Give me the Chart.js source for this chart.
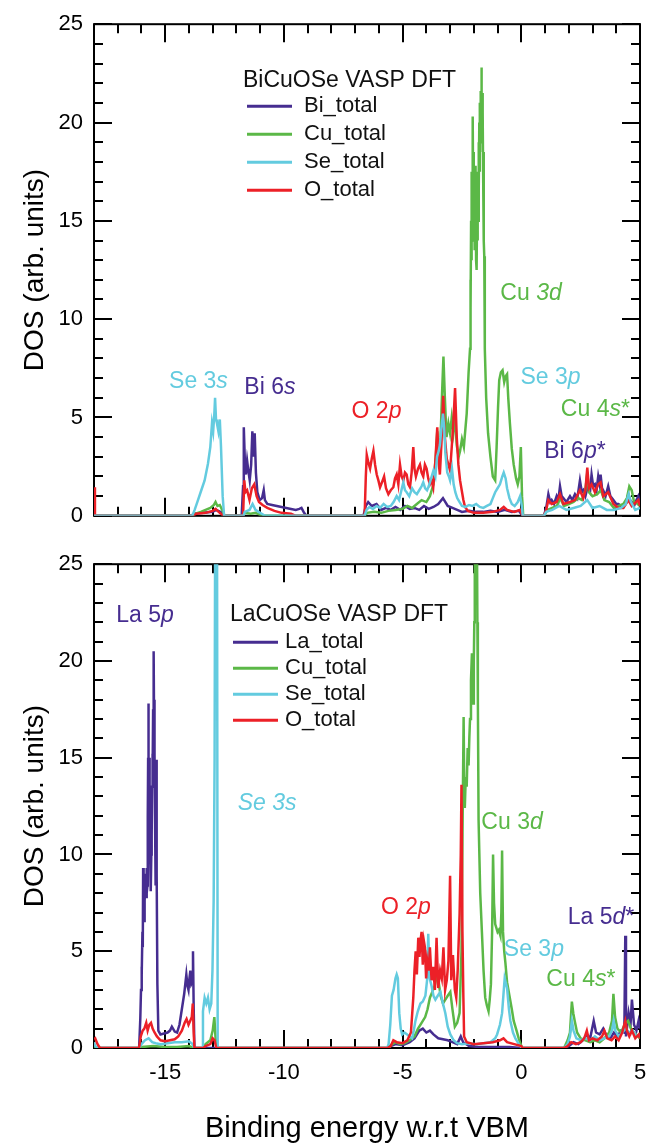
<!DOCTYPE html>
<html><head><meta charset="utf-8">
<script src="https://cdn.jsdelivr.net/npm/chart.js@4.4.0/dist/chart.umd.min.js"></script>
<style>
html,body{margin:0;padding:0;background:#fff;width:646px;height:1146px;overflow:hidden}
#c1{position:absolute;left:0;top:0}
#c2{position:absolute;left:0;top:540px}
</style></head>
<body>
<canvas id="c1" width="646" height="540"></canvas>
<canvas id="c2" width="646" height="606"></canvas>
<script>
// ---------- axis settings ----------
const xRange = [-18, 5];
const yRange = [0, 25];
const xTitle = 'Binding energy w.r.t VBM';
const yTitle = 'DOS (arb. units)';

// ---------- panel 1: BiCuOSe ----------
const bi_title = 'BiCuOSe VASP DFT';
const bi_names = ['Bi_total', 'Cu_total', 'Se_total', 'O_total'];

const bi_Bi = [[-18,0],[-13.9,0],[-13.8,0.1],[-13.4,0.15],[-13.0,0.2],[-12.85,0.3],[-12.6,0.15],[-12.5,0],
[-11.78,0],[-11.72,1.5],[-11.69,4.5],[-11.64,2.6],[-11.6,2.1],[-11.55,2.8],[-11.51,2.4],[-11.44,1.8],[-11.38,2.6],[-11.33,4.3],[-11.28,3.0],[-11.23,4.2],[-11.18,2.2],[-11.12,1.2],[-11.02,0.8],[-10.92,0.9],[-10.85,1.3],[-10.8,0.8],[-10.7,0.6],[-10.5,0.55],[-10.3,0.5],[-10.1,0.45],[-9.9,0.4],[-9.7,0.35],[-9.5,0.3],[-9.35,0.35],[-9.26,0.4],[-9.15,0.15],[-9.05,0],
[-6.65,0],[-6.55,0.5],[-6.45,0.7],[-6.3,0.5],[-6.1,0.6],[-5.9,0.3],[-5.7,0.4],[-5.5,0.3],[-5.3,0.45],[-5.1,0.3],[-4.9,0.5],[-4.7,0.35],[-4.5,0.4],[-4.3,0.3],[-4.1,0.5],[-3.9,0.35],[-3.7,0.45],[-3.5,0.6],[-3.3,0.9],[-3.1,0.5],[-2.9,0.4],[-2.7,0.3],[-2.5,0.2],[-2.2,0.25],[-1.9,0.2],[-1.6,0.2],[-1.3,0.25],[-1.0,0.2],[-0.7,0.3],[-0.4,0.2],[-0.1,0.25],[0.05,0],
[0.95,0],[1.05,0.4],[1.14,1.1],[1.22,0.7],[1.28,0.8],[1.38,0.6],[1.49,1.0],[1.56,0.8],[1.63,1.5],[1.7,1.0],[1.77,0.9],[1.9,0.7],[2.05,1.0],[2.15,0.8],[2.26,1.1],[2.36,0.9],[2.47,1.8],[2.55,1.2],[2.61,1.3],[2.7,1.0],[2.82,1.6],[2.9,1.3],[2.96,2.1],[3.03,1.5],[3.1,1.6],[3.17,1.3],[3.24,2.0],[3.3,1.6],[3.34,2.1],[3.4,1.4],[3.45,1.3],[3.55,1.0],[3.66,1.5],[3.75,1.0],[3.88,0.8],[4.0,0.6],[4.09,0.6],[4.2,0.5],[4.3,0.5],[4.4,0.6],[4.51,1.1],[4.58,0.8],[4.65,0.7],[4.75,0.5],[4.85,0.8],[4.93,1.0],[5,0.7]];

const bi_Cu = [[-18,0],[-13.85,0],[-13.75,0.1],[-13.5,0.2],[-13.3,0.3],[-13.1,0.4],[-12.95,0.55],[-12.88,0.7],[-12.8,0.5],[-12.7,0.55],[-12.6,0.3],[-12.5,0],
[-11.75,0],[-11.65,0.15],[-11.4,0.1],[-11.2,0.15],[-11.0,0.05],[-10.8,0],
[-6.6,0],[-6.5,0.15],[-6.2,0.2],[-5.9,0.15],[-5.6,0.25],[-5.3,0.3],[-5.0,0.35],[-4.8,0.5],[-4.6,0.4],[-4.4,0.6],[-4.2,0.8],[-4.0,0.7],[-3.85,1.0],[-3.7,1.6],[-3.6,3.0],[-3.54,4.3],[-3.47,2.8],[-3.4,4.0],[-3.33,6.5],[-3.28,8.1],[-3.22,6.0],[-3.15,4.0],[-3.07,4.7],[-3.0,4.2],[-2.93,5.0],[-2.86,4.3],[-2.8,5.2],[-2.72,3.6],[-2.64,3.0],[-2.58,3.3],[-2.5,3.9],[-2.42,3.5],[-2.3,5.2],[-2.22,7.3],
[-2.16,8.5],[-2.145,12.0],[-2.13,10.5],[-2.115,15.0],[-2.1,13.0],[-2.085,17.5],[-2.07,14.0],[-2.055,19.0],[-2.04,20.3],[-2.025,16.0],[-2.01,18.5],[-1.995,14.5],[-1.98,16.5],[-1.965,13.5],[-1.95,17.0],[-1.935,15.0],[-1.92,17.8],[-1.905,13.0],[-1.89,15.5],[-1.875,12.5],[-1.86,16.0],[-1.845,14.0],[-1.83,17.5],[-1.815,15.0],[-1.8,19.0],[-1.785,16.5],[-1.77,20.0],[-1.755,17.5],[-1.74,21.0],[-1.725,19.0],[-1.71,21.6],[-1.695,20.0],[-1.68,22.8],[-1.665,19.5],[-1.65,21.5],[-1.635,18.5],[-1.62,20.5],[-1.605,17.0],[-1.59,18.5],[-1.575,14.0],[-1.56,13.2],[-1.545,10.0],[-1.53,8.5],
[-1.48,6.0],[-1.4,4.2],[-1.3,3.0],[-1.2,2.0],[-1.1,1.8],[-1.04,3.5],[-0.98,5.5],[-0.93,6.9],[-0.86,7.3],[-0.79,7.4],[-0.72,6.8],[-0.66,7.1],[-0.6,7.2],[-0.55,6.0],[-0.48,4.7],[-0.4,3.4],[-0.32,2.6],[-0.22,1.9],[-0.15,1.6],[-0.08,2.0],[-0.02,3.5],[0.03,1.0],[0.08,0],
[0.95,0],[1.1,0.3],[1.3,0.4],[1.5,0.5],[1.63,0.9],[1.8,0.5],[2.0,0.6],[2.2,0.7],[2.4,0.9],[2.55,0.8],[2.7,1.3],[2.78,2.2],[2.85,1.2],[3.0,1.0],[3.2,1.1],[3.35,1.3],[3.5,0.8],[3.7,0.7],[3.9,0.4],[4.1,0.5],[4.3,0.6],[4.45,0.9],[4.55,1.5],[4.65,1.3],[4.75,0.7],[4.9,0.6],[5,0.5]];

const bi_Se = [[-18,0],[-13.86,0],[-13.76,0.3],[-13.62,0.8],[-13.48,1.3],[-13.34,1.8],[-13.2,2.65],[-13.1,3.5],[-13.03,4.7],[-12.98,4.3],[-12.93,5.2],[-12.9,6.0],[-12.86,4.9],[-12.82,4.7],[-12.76,4.3],[-12.7,4.9],[-12.65,3.5],[-12.58,1.0],[-12.52,0],
[-11.7,0],[-11.65,0.2],[-11.45,0.3],[-11.32,0.6],[-11.2,0.3],[-11.0,0.15],[-10.8,0],
[-6.6,0],[-6.52,0.3],[-6.4,0.45],[-6.25,0.35],[-6.1,0.5],[-5.95,0.4],[-5.8,0.6],[-5.65,0.45],[-5.5,0.5],[-5.38,0.7],[-5.25,1.0],[-5.15,0.8],[-5.05,1.3],[-4.97,1.7],[-4.9,1.3],[-4.83,1.2],[-4.72,1.0],[-4.6,1.4],[-4.5,1.2],[-4.4,1.1],[-4.3,1.3],[-4.2,1.5],[-4.13,1.7],[-4.05,1.4],[-3.97,1.3],[-3.9,1.5],[-3.8,1.9],[-3.7,2.3],[-3.62,2.0],[-3.55,3.0],[-3.48,3.3],[-3.43,3.6],[-3.37,4.4],[-3.3,5.2],[-3.25,4.5],[-3.2,3.2],[-3.12,2.2],[-3.05,2.0],[-3.0,1.8],[-2.92,2.4],[-2.85,1.6],[-2.78,1.2],[-2.7,0.9],[-2.6,0.7],[-2.5,0.5],[-2.35,0.45],[-2.2,0.55],[-2.05,0.5],[-1.9,0.6],[-1.75,0.45],[-1.6,0.4],[-1.45,0.5],[-1.3,0.6],[-1.2,0.9],[-1.1,1.2],[-1.0,1.4],[-0.9,1.6],[-0.8,2.0],[-0.74,2.2],[-0.66,1.9],[-0.6,1.4],[-0.5,0.9],[-0.4,0.6],[-0.28,0.5],[-0.15,0.7],[-0.05,1.0],[0.02,0.5],[0.06,0],
[0.95,0],[1.05,0.2],[1.3,0.3],[1.6,0.5],[1.9,0.3],[2.2,0.4],[2.5,0.5],[2.78,0.8],[3.0,0.4],[3.3,0.5],[3.6,0.3],[3.9,0.3],[4.2,0.4],[4.4,0.6],[4.52,1.1],[4.62,0.7],[4.8,0.3],[5,0.4]];

const bi_O = [[-18,1.45],[-17.96,0],[-13.86,0],[-13.7,0.1],[-13.3,0.15],[-13.0,0.25],[-12.88,0.35],[-12.75,0.2],[-12.55,0],
[-11.72,0],[-11.67,1.8],[-11.62,1.2],[-11.55,1.3],[-11.45,0.8],[-11.35,1.4],[-11.25,1.6],[-11.15,1.0],[-11.05,0.7],[-10.9,0.55],[-10.7,0.4],[-10.4,0.25],[-10.1,0.15],[-9.7,0.1],[-9.5,0],
[-6.6,0],[-6.55,2.0],[-6.51,3.1],[-6.44,2.7],[-6.37,2.4],[-6.3,2.9],[-6.23,3.3],[-6.16,2.6],[-6.09,2.1],[-6.02,1.8],[-5.95,1.45],[-5.87,1.7],[-5.78,2.0],[-5.7,1.4],[-5.6,1.1],[-5.5,1.3],[-5.39,1.45],[-5.32,1.9],[-5.25,2.1],[-5.18,1.6],[-5.11,2.6],[-5.04,2.0],[-4.97,1.8],[-4.9,2.2],[-4.83,2.1],[-4.76,1.6],[-4.69,1.45],[-4.62,2.2],[-4.55,3.5],[-4.5,2.4],[-4.44,2.0],[-4.35,2.4],[-4.27,2.6],[-4.2,2.2],[-4.13,2.0],[-4.06,2.6],[-3.99,2.4],[-3.92,1.9],[-3.85,1.6],[-3.78,1.8],[-3.71,1.45],[-3.62,2.8],[-3.54,4.5],[-3.48,2.7],[-3.43,2.1],[-3.36,3.8],[-3.29,6.1],[-3.22,4.0],[-3.14,2.9],[-3.07,2.6],[-3.0,2.3],[-2.93,3.5],[-2.86,4.8],[-2.79,6.5],[-2.72,4.0],[-2.65,2.6],[-2.58,1.8],[-2.51,1.3],[-2.44,0.8],[-2.37,0.45],[-2.25,0.25],[-2.0,0.15],[-1.6,0.15],[-1.2,0.2],[-0.9,0.3],[-0.74,0.45],[-0.6,0.3],[-0.3,0.2],[-0.05,0.3],[0.05,0],
[0.95,0],[1.05,0.3],[1.14,0.8],[1.28,0.6],[1.49,0.7],[1.63,1.1],[1.77,0.6],[2.05,0.7],[2.26,0.8],[2.47,1.3],[2.61,0.9],[2.7,1.3],[2.78,2.45],[2.85,1.4],[2.96,1.6],[3.1,1.2],[3.24,1.6],[3.34,1.7],[3.45,1.0],[3.66,1.2],[3.88,0.6],[4.09,0.4],[4.3,0.4],[4.51,0.8],[4.65,0.5],[4.93,0.8],[5,0.5]];

// ---------- panel 2: LaCuOSe ----------
const la_title = 'LaCuOSe VASP DFT';
const la_names = ['La_total', 'Cu_total', 'Se_total', 'O_total'];

const la_La = [[-18,0],[-16.1,0],[-16.05,1.5],[-16.02,3.0],[-16.0,4.2],[-15.98,3.8],[-15.96,6.0],[-15.945,5.2],[-15.93,9.3],[-15.91,7.0],[-15.89,8.0],[-15.875,6.5],[-15.86,7.6],[-15.84,8.5],[-15.82,9.0],[-15.805,7.8],[-15.79,9.3],[-15.77,8.0],[-15.75,8.4],[-15.74,10.5],[-15.73,12.0],[-15.72,15.0],[-15.71,17.8],[-15.695,14.0],[-15.68,15.0],[-15.665,11.5],[-15.65,13.5],[-15.635,10.0],[-15.62,9.5],[-15.61,8.5],[-15.6,8.1],[-15.585,10.0],[-15.57,11.0],[-15.555,13.5],[-15.54,15.2],[-15.525,14.0],[-15.51,17.5],[-15.495,16.0],[-15.48,20.5],[-15.47,17.0],[-15.46,18.0],[-15.45,14.0],[-15.44,15.2],[-15.43,12.0],[-15.42,11.0],[-15.41,9.0],[-15.4,8.4],[-15.39,10.5],[-15.38,12.0],[-15.37,14.9],[-15.36,11.0],[-15.35,9.0],[-15.33,3.3],[-15.29,0.9],[-15.2,0.7],[-15.05,0.75],[-14.9,0.8],[-14.8,0.9],[-14.72,1.1],[-14.6,0.85],[-14.5,0.8],[-14.4,1.2],[-14.3,2.0],[-14.2,2.8],[-14.11,3.8],[-14.06,3.2],[-14.02,3.0],[-13.98,3.6],[-13.94,4.0],[-13.9,3.3],[-13.86,3.4],[-13.83,5.0],[-13.8,2.0],[-13.77,0],
[-5.6,0],[-5.5,0.1],[-5.3,0.2],[-5.0,0.15],[-4.7,0.3],[-4.5,0.5],[-4.3,0.9],[-4.15,1.0],[-4.0,0.8],[-3.85,0.9],[-3.7,0.7],[-3.5,0.5],[-3.3,0.45],[-3.1,0.4],[-2.9,0.3],[-2.7,0.2],[-2.55,0.6],[-2.45,0.3],[-2.2,0.1],[-1.8,0.05],[-1.0,0.05],[-0.5,0.05],[0,0],
[1.8,0],[2.0,0.1],[2.2,0.3],[2.4,0.2],[2.6,0.4],[2.76,0.7],[2.9,0.5],[3.05,1.4],[3.15,0.8],[3.3,0.7],[3.45,1.0],[3.6,0.6],[3.75,0.5],[3.9,0.8],[4.05,0.6],[4.2,0.9],[4.34,0.8],[4.38,5.8],[4.41,0.6],[4.52,1.8],[4.6,1.2],[4.66,2.5],[4.75,1.2],[4.85,0.9],[4.94,1.4],[5,1.0]];

const la_Cu = [[-18,0],[-16.1,0],[-16.0,0.05],[-15.5,0.1],[-15.0,0.05],[-14.5,0.05],[-14.0,0.1],[-13.8,0],[-13.4,0],[-13.3,0.2],[-13.1,0.4],[-13.0,0.9],[-12.93,1.6],[-12.88,0.5],[-12.8,0],
[-5.6,0],[-5.5,0.15],[-5.3,0.3],[-5.1,0.2],[-4.9,0.25],[-4.7,0.4],[-4.5,0.6],[-4.35,1.0],[-4.2,1.3],[-4.05,1.6],[-3.95,2.0],[-3.85,2.6],[-3.75,2.9],[-3.65,3.2],[-3.55,3.8],[-3.48,3.4],[-3.4,2.7],[-3.3,2.3],[-3.2,2.5],[-3.1,2.7],[-2.99,2.9],[-2.9,2.0],[-2.8,1.1],[-2.7,1.3],[-2.6,1.8],[-2.52,5.0],[-2.47,12.0],[-2.43,17.1],[-2.4,13.0],[-2.38,12.4],[-2.34,14.0],[-2.3,13.5],[-2.26,15.5],[-2.22,14.6],[-2.19,16.0],[-2.16,17.0],[-2.12,19.0],[-2.08,20.4],[-2.05,18.5],[-2.03,17.8],[-2.0,20.0],[-1.98,22.0],[-1.96,24.5],[-1.94,27],[-1.87,27],[-1.85,22.0],[-1.83,18.0],[-1.8,11.8],[-1.73,8.0],[-1.66,6.0],[-1.59,4.0],[-1.52,2.6],[-1.45,2.2],[-1.38,1.9],[-1.33,2.5],[-1.28,3.3],[-1.23,6.0],[-1.19,10.0],[-1.15,7.5],[-1.1,6.4],[-1.0,6.0],[-0.95,6.1],[-0.88,5.8],[-0.84,7.0],[-0.81,10.2],[-0.77,6.0],[-0.72,5.0],[-0.67,4.4],[-0.6,3.4],[-0.5,2.7],[-0.4,2.0],[-0.32,1.4],[-0.2,0.9],[-0.11,0.5],[0.03,0],
[1.8,0],[1.95,0.4],[2.05,0.8],[2.13,2.4],[2.19,1.8],[2.25,1.4],[2.35,0.8],[2.5,0.5],[2.7,0.4],[2.9,0.3],[3.1,0.4],[3.3,0.3],[3.5,0.5],[3.7,0.8],[3.82,1.4],[3.88,2.8],[3.95,1.6],[4.05,1.0],[4.2,0.8],[4.35,1.2],[4.5,1.4],[4.62,1.0],[4.75,0.8],[4.9,0.6],[5,0.5]];

const la_Se = [[-18,0.3],[-17.95,0.1],[-17.85,0],[-16.1,0],[-16.0,0.2],[-15.85,0.4],[-15.7,0.5],[-15.55,0.3],[-15.4,0.25],[-15.2,0.2],[-14.9,0.25],[-14.6,0.3],[-14.3,0.3],[-14.0,0.35],[-13.85,0.2],[-13.78,0],
[-13.45,0],[-13.41,1.9],[-13.34,2.6],[-13.27,2.3],[-13.2,2.6],[-13.13,2.0],[-13.06,2.3],[-13.01,4.0],[-12.96,7.6],[-12.92,15],[-12.89,30],[-12.82,30],[-12.79,0],
[-5.65,0],[-5.59,0.2],[-5.52,1.2],[-5.45,2.7],[-5.38,3.0],[-5.3,3.6],[-5.25,3.8],[-5.2,3.6],[-5.14,1.8],[-5.08,1.0],[-5.02,0.7],[-4.92,0.8],[-4.81,0.7],[-4.7,0.6],[-4.6,0.5],[-4.53,0.9],[-4.46,1.4],[-4.36,1.9],[-4.25,2.3],[-4.15,2.4],[-4.04,2.7],[-3.97,3.5],[-3.92,5.9],[-3.86,3.6],[-3.78,3.2],[-3.7,2.7],[-3.62,2.5],[-3.52,2.7],[-3.41,2.9],[-3.3,2.3],[-3.2,1.8],[-3.1,1.1],[-2.99,0.7],[-2.85,0.4],[-2.71,0.25],[-2.5,0.2],[-2.2,0.25],[-1.9,0.2],[-1.6,0.25],[-1.3,0.3],[-1.1,0.5],[-1.02,0.7],[-0.9,1.2],[-0.81,1.8],[-0.75,2.8],[-0.7,3.6],[-0.6,3.1],[-0.52,2.0],[-0.46,1.4],[-0.35,0.8],[-0.25,0.5],[-0.1,0.2],[0.02,0],
[1.8,0],[1.95,0.2],[2.05,0.6],[2.13,1.4],[2.2,0.9],[2.32,0.5],[2.5,0.4],[2.7,0.5],[2.9,0.4],[3.1,0.6],[3.3,0.4],[3.5,0.5],[3.7,0.6],[3.82,0.9],[3.89,1.4],[3.96,0.9],[4.1,0.6],[4.25,0.8],[4.4,1.0],[4.55,0.8],[4.7,0.9],[4.85,0.6],[5,0.7]];

const la_O = [[-18,0.45],[-17.95,0.5],[-17.85,0.2],[-17.75,0],[-16.1,0],[-16.03,0.6],[-15.95,0.9],[-15.88,1.0],[-15.8,1.3],[-15.74,0.9],[-15.67,1.2],[-15.6,1.3],[-15.53,1.0],[-15.45,0.8],[-15.35,0.6],[-15.2,0.4],[-15.0,0.35],[-14.8,0.4],[-14.6,0.45],[-14.45,0.6],[-14.3,0.9],[-14.18,1.3],[-14.1,1.5],[-14.02,1.2],[-13.95,1.4],[-13.88,1.6],[-13.84,2.3],[-13.8,0.8],[-13.77,0],
[-13.4,0],[-13.3,0.1],[-13.1,0.2],[-13.0,0.5],[-12.92,0.4],[-12.85,0],
[-5.65,0],[-5.5,0.1],[-5.39,0.4],[-5.25,0.3],[-5.0,0.25],[-4.8,0.4],[-4.65,0.8],[-4.55,2.6],[-4.5,4.0],[-4.45,5.0],[-4.4,3.8],[-4.34,5.7],[-4.29,4.7],[-4.25,5.5],[-4.2,6.0],[-4.15,4.3],[-4.1,5.5],[-4.06,5.2],[-4.01,3.6],[-3.96,4.5],[-3.9,4.0],[-3.85,5.2],[-3.78,3.5],[-3.71,4.2],[-3.64,3.0],[-3.57,5.7],[-3.5,3.1],[-3.42,4.0],[-3.35,3.6],[-3.28,5.2],[-3.21,3.0],[-3.14,3.5],[-3.07,4.5],[-3.0,8.9],[-2.95,3.5],[-2.88,4.8],[-2.8,3.0],[-2.74,2.6],[-2.68,4.0],[-2.6,6.9],[-2.55,10.0],[-2.52,13.6],[-2.48,6.0],[-2.44,2.6],[-2.41,0.6],[-2.3,0.3],[-2.0,0.2],[-1.6,0.25],[-1.2,0.3],[-0.9,0.4],[-0.75,0.5],[-0.6,0.3],[-0.3,0.2],[0.0,0.1],[0.05,0],
[1.8,0],[1.95,0.1],[2.1,0.3],[2.3,0.2],[2.5,0.3],[2.65,0.5],[2.76,0.9],[2.85,0.4],[3.0,0.5],[3.2,0.4],[3.4,0.6],[3.5,0.9],[3.62,0.5],[3.8,0.4],[3.95,0.6],[4.1,0.4],[4.25,0.8],[4.38,1.4],[4.45,0.9],[4.55,0.6],[4.66,0.9],[4.8,0.5],[4.95,0.7],[5,0.5]];

// ---------- annotation texts (data coordinates; [text, italic]) ----------
const bi_notes = [
  {x:-13.6, y:6.8,  c:2, parts:[['Se 3',0],['s',1]]},
  {x:-10.59,y:6.54, c:0, parts:[['Bi 6',0],['s',1]]},
  {x:-6.1,  y:5.28, c:3, parts:[['O 2',0],['p',1]]},
  {x:0.41,  y:11.32,c:1, parts:[['Cu ',0],['3d',1]]},
  {x:1.23,  y:7.04, c:2, parts:[['Se 3',0],['p',1]]},
  {x:3.12,  y:5.38, c:1, parts:[['Cu 4',0],['s',1],['*',0]]},
  {x:2.26,  y:3.27, c:0, parts:[['Bi 6',0],['p',1],['*',0]]}
];
const la_notes = [
  {x:-15.85,y:22.35,c:0, parts:[['La 5',0],['p',1]]},
  {x:-10.71,y:12.65,c:2, parts:[['Se 3s',1]]},
  {x:-0.39, y:11.63,c:1, parts:[['Cu 3',0],['d',1]]},
  {x:-4.86, y:7.26, c:3, parts:[['O 2',0],['p',1]]},
  {x:0.53,  y:5.07, c:2, parts:[['Se 3',0],['p',1]]},
  {x:2.51,  y:3.52, c:1, parts:[['Cu 4',0],['s',1],['*',0]]},
  {x:3.36,  y:6.72, c:0, parts:[['La 5',0],['d',1],['*',0]]}
];

// ---------- styling ----------
const COLORS = ['#462d90', '#5bb847', '#63cbdf', '#ec2027'];
const FAM = '"Liberation Sans", Arial, Helvetica, sans-serif';

const toXY = a => a.map(([x, y]) => ({x, y}));

const decor = {
  id: 'decor',
  beforeDatasetsDraw(chart, args, o) {
    const {ctx, chartArea: a, scales: {x, y}} = chart;
    ctx.save();
    ctx.strokeStyle = '#000';
    ctx.lineWidth = 2;
    ctx.strokeRect(a.left, a.top, a.right - a.left, a.bottom - a.top);
    ctx.beginPath();
    x.ticks.forEach(t => {
      const p = Math.round(x.getPixelForValue(t.value));
      const L = (Math.abs(t.value) % 5 === 0) ? 18 : 9;
      ctx.moveTo(p, a.bottom); ctx.lineTo(p, a.bottom - L);
      ctx.moveTo(p, a.top); ctx.lineTo(p, a.top + L);
    });
    y.ticks.forEach(t => {
      const p = Math.round(y.getPixelForValue(t.value));
      const L = (t.value % 5 === 0) ? 18 : 9;
      ctx.moveTo(a.left, p); ctx.lineTo(a.left + L, p);
      ctx.moveTo(a.right, p); ctx.lineTo(a.right - L, p);
    });
    ctx.stroke();
    ctx.restore();
  },
  afterDatasetsDraw(chart, args, o) {
    const {ctx, chartArea: a, scales: {x, y}} = chart;
    ctx.save();
    ctx.textBaseline = 'middle';
    ctx.textAlign = 'left';
    // legend
    const L = o.legend;
    ctx.fillStyle = '#111';
    ctx.font = '23px ' + FAM;
    ctx.fillText(o.title, a.left + L.titleX, a.top + L.titleY);
    o.names.forEach((n, i) => {
      const ry = a.top + L.rowY + i * L.rowGap;
      ctx.strokeStyle = COLORS[i];
      ctx.lineWidth = 3;
      ctx.beginPath();
      ctx.moveTo(a.left + L.lineX1, ry);
      ctx.lineTo(a.left + L.lineX2, ry);
      ctx.stroke();
      ctx.fillStyle = '#111';
      ctx.font = '22px ' + FAM;
      ctx.fillText(n, a.left + L.textX, ry);
    });
    // annotations
    o.notes.forEach(n => {
      const px = x.getPixelForValue(n.x), py = y.getPixelForValue(n.y);
      const w = n.parts.map(([t, it]) => { ctx.font = (it ? 'italic ' : '') + '23px ' + FAM; return ctx.measureText(t).width; });
      let cx = px - w.reduce((s, v) => s + v, 0) / 2;
      ctx.fillStyle = COLORS[n.c];
      n.parts.forEach(([t, it], i) => {
        ctx.font = (it ? 'italic ' : '') + '23px ' + FAM;
        ctx.fillText(t, cx, py);
        cx += w[i];
      });
    });
    ctx.restore();
  }
};

function makePanel(canvasId, series, names, title, notes, opts) {
  const order = opts.order;
  const datasets = series.map((s, i) => ({
    label: names[i],
    data: toXY(s),
    showLine: true,
    borderColor: COLORS[i],
    backgroundColor: COLORS[i],
    borderWidth: 2.5,
    pointRadius: 0,
    tension: 0,
    order: order[i]
  }));
  return new Chart(document.getElementById(canvasId), {
    type: 'scatter',
    data: {datasets},
    plugins: [decor],
    options: {
      responsive: false,
      animation: false,
      devicePixelRatio: 1,
      layout: {padding: {top: opts.padTop, right: 6, left: 0, bottom: 0}},
      plugins: {
        legend: {display: false},
        tooltip: {enabled: false},
        decor: {title, names, notes, legend: opts.legend}
      },
      scales: {
        x: {
          type: 'linear', min: xRange[0], max: xRange[1],
          grid: {display: false, drawTicks: false},
          border: {display: false},
          ticks: {
            display: opts.showX, stepSize: 1, autoSkip: false, maxRotation: 0, minRotation: 0,
            padding: 12, color: '#000', font: {size: 22, family: FAM},
            callback: v => (Math.abs(v) % 5 === 0 ? String(v) : '')
          },
          title: {display: opts.showX, text: xTitle, color: '#000',
                  font: {size: 29, family: FAM, lineHeight: 1.0}, padding: {top: 0, bottom: 3}},
          afterFit(s) { s.height = opts.xHeight; s.paddingLeft = 0; s.paddingRight = 0; }
        },
        y: {
          type: 'linear', min: yRange[0], max: yRange[1],
          grid: {display: false, drawTicks: false},
          border: {display: false},
          ticks: {
            stepSize: 1, autoSkip: false, padding: 11, color: '#000',
            font: {size: 22, family: FAM},
            callback: v => (v % 5 === 0 ? String(v) : '')
          },
          title: {display: true, text: yTitle, color: '#000',
                  font: {size: 28, family: FAM, lineHeight: 1.2}, padding: {top: 18, bottom: 0}},
          afterFit(s) { s.width = 94; }
        }
      }
    }
  });
}

makePanel('c1', [bi_Bi, bi_Cu, bi_Se, bi_O], bi_names, bi_title, bi_notes, {
  padTop: 19, xHeight: 24, showX: false,
  order: [3, 2, 0, 1],
  legend: {titleX: 149, titleY: 56, rowY: 82, rowGap: 28, lineX1: 153, lineX2: 198, textX: 210}
});
makePanel('c2', [la_La, la_Cu, la_Se, la_O], la_names, la_title, la_notes, {
  padTop: 18, xHeight: 98, showX: true,
  order: [3, 2, 1, 0],
  legend: {titleX: 136, titleY: 50, rowY: 78, rowGap: 26, lineX1: 139, lineX2: 184, textX: 191}
});
</script>
</body></html>
